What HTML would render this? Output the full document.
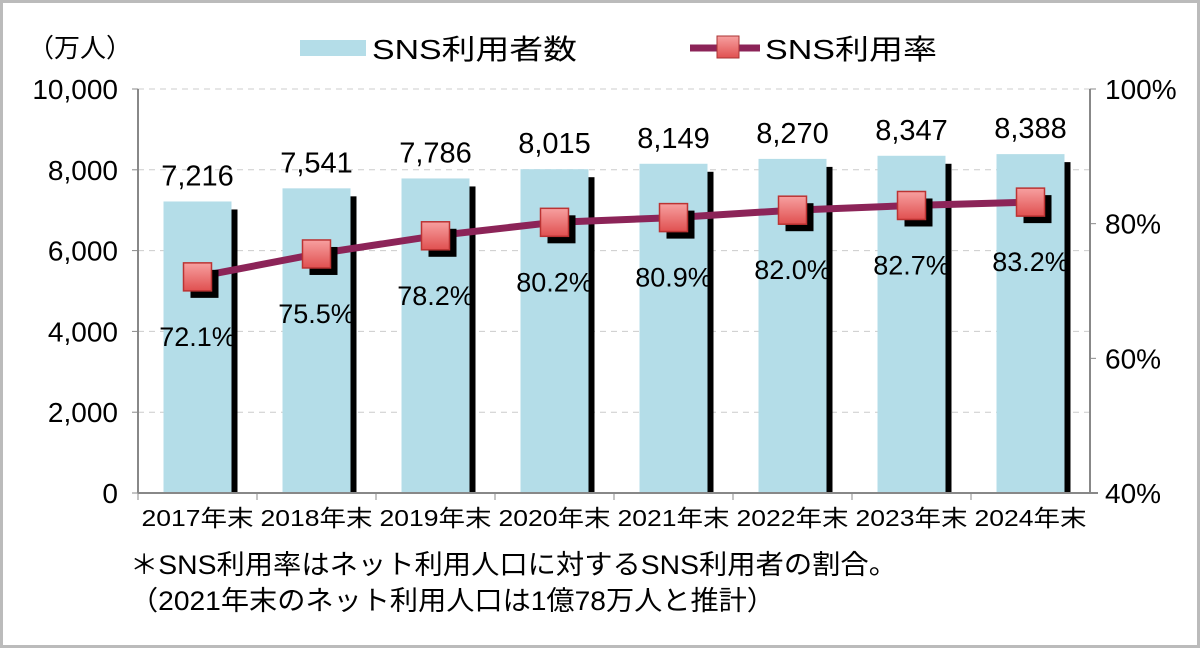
<!DOCTYPE html>
<html><head><meta charset="utf-8"><style>
body{margin:0;background:#fff}
svg text{font-family:"Liberation Sans","Noto Sans CJK JP",sans-serif}
</style></head><body>
<svg width="1200" height="648" viewBox="0 0 1200 648">
<defs><linearGradient id="mg" x1="0" y1="0" x2="0" y2="1"><stop offset="0" stop-color="#f7a0a0"/><stop offset="1" stop-color="#e05050"/></linearGradient></defs>
<rect x="1.5" y="1.5" width="1197" height="645" fill="#fff" stroke="#bbb" stroke-width="3"/>
<g id="grid"></g><g id="bars"></g><g id="axes"></g><g id="line"></g>
<text x="28" y="57" font-size="26">（万人）</text>
<rect x="300" y="40" width="66" height="16" fill="#b4dde8"/>
<text x="372" y="59" font-size="28" textLength="205" lengthAdjust="spacingAndGlyphs">SNS利用者数</text>
<line x1="690" y1="48" x2="760" y2="48" stroke="#8c2458" stroke-width="7"/>
<rect x="717" y="36" width="22" height="22" fill="url(#mg)" stroke="#a33"/>
<text x="765" y="59" font-size="28" textLength="172" lengthAdjust="spacingAndGlyphs">SNS利用率</text>
<text x="130" y="574" font-size="27" textLength="767" lengthAdjust="spacingAndGlyphs">＊SNS利用率はネット利用人口に対するSNS利用者の割合。</text>
<text x="130" y="610" font-size="27" textLength="645" lengthAdjust="spacingAndGlyphs">（2021年末のネット利用人口は1億78万人と推計）</text>
</svg>
<script>
const categories=["2017年末","2018年末","2019年末","2020年末","2021年末","2022年末","2023年末","2024年末"];
const users=[7216,7541,7786,8015,8149,8270,8347,8388];
const rates=[72.1,75.5,78.2,80.2,80.9,82.0,82.7,83.2];
const leftTicks=[0,2000,4000,6000,8000,10000];
const rightTicks=[40,60,80,100];
const NS="http://www.w3.org/2000/svg";
const L=138,R=1090,T=89,B=493,cw=(R-L)/categories.length;
const yL=v=>B-(v/10000)*(B-T);
const yR=v=>B-((v-40)/60)*(B-T);
const xC=i=>L+cw*(i+0.5);
function mk(p,t,a){const e=document.createElementNS(NS,t);for(const k in a)e.setAttribute(k,a[k]);document.getElementById(p).appendChild(e);return e;}
leftTicks.forEach(v=>{if(v>0){const g=mk('grid','line',{x1:L,x2:R,y1:yL(v),y2:yL(v),stroke:'#ccc','stroke-dasharray':'6,5'});
}
const t=mk('axes','text',{x:L-20,y:yL(v)+10,'font-size':28,'text-anchor':'end'});t.textContent=v.toLocaleString('en-US');

mk('axes','line',{x1:L-6,x2:L,y1:yL(v),y2:yL(v),stroke:'#888'});});
rightTicks.forEach(v=>{const t=mk('axes','text',{x:R+15,y:yR(v)+10,'font-size':28});t.textContent=v+'%';

mk('axes','line',{x1:R,x2:R+6,y1:yR(v),y2:yR(v),stroke:'#888'});});
mk('axes','line',{x1:L,x2:L,y1:T,y2:B,stroke:'#888','stroke-width':2});
mk('axes','line',{x1:R,x2:R,y1:T,y2:B,stroke:'#888','stroke-width':2});
mk('axes','line',{x1:L,x2:R+8,y1:B,y2:B,stroke:'#888','stroke-width':2});
categories.forEach((c,i)=>{
mk('axes','line',{x1:L+cw*i,x2:L+cw*i,y1:B,y2:B+7,stroke:'#888'});
const cx=xC(i),y=yL(users[i]);
const sh=mk('bars','rect',{x:cx+34,y:y+8,width:6,height:B-y-8,fill:'#000'});

const b=mk('bars','rect',{x:cx-34,y:y,width:68,height:B-y,fill:'#b4dde8'});

const t=mk('bars','text',{x:cx,y:y-16,'font-size':29,'text-anchor':'middle'});t.textContent=users[i].toLocaleString('en-US');

const xl=mk('axes','text',{x:cx-56,y:B+33,'font-size':23,textLength:112,lengthAdjust:'spacingAndGlyphs'});xl.textContent=c;

});
const pts=rates.map((r,i)=>xC(i)+','+yR(r)).join(' ');
const pl=mk('line','polyline',{points:pts,fill:'none',stroke:'#8c2458','stroke-width':7});

rates.forEach((r,i)=>{const cx=xC(i),y=yR(r);
mk('line','rect',{x:cx-7,y:y-7,width:28,height:28,fill:'#000'});
const m=mk('line','rect',{x:cx-14,y:y-14,width:28,height:28,fill:'url(#mg)',stroke:'#b33','stroke-width':1.5});

const t=mk('line','text',{x:cx,y:y+69,'font-size':27,'text-anchor':'middle'});t.textContent=r.toFixed(1)+'%';
});
</script>
</body></html>
